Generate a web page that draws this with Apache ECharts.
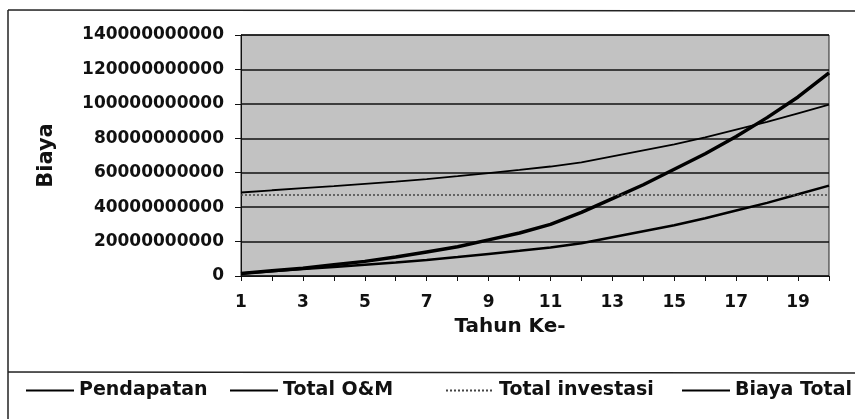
<!DOCTYPE html>
<html>
<head>
<meta charset="utf-8">
<script src="https://cdn.jsdelivr.net/npm/echarts@6/dist/echarts.min.js"></script>
<style>
  html, body { margin: 0; padding: 0; background: #fff; }
  #main { width: 855px; height: 419px; }
</style>
</head>
<body>
<div id="main"></div>
<script>
// tahun ke-
var years = ['1','2','3','4','5','6','7','8','9','10','11','12','13','14','15','16','17','18','19','20']
// nilai dalam rupiah
var pendapatan = [1.5e9, 3e9, 4.5e9, 6.5e9, 8.5e9, 11e9, 14e9, 17e9, 21e9, 25e9,
  30e9, 37e9, 45e9, 53e9, 62e9, 71e9, 81e9, 92e9, 104e9, 118e9]
var totalOM = [1.5e9, 2.8e9, 4e9, 5.2e9, 6.5e9, 7.8e9, 9.3e9, 11e9, 12.8e9, 14.6e9,
  16.6e9, 19e9, 22.5e9, 26e9, 29.5e9, 33.5e9, 38e9, 42.5e9, 47.5e9, 52.5e9]
var totalInvestasi = [47e9, 47e9, 47e9, 47e9, 47e9, 47e9, 47e9, 47e9, 47e9, 47e9,
  47e9, 47e9, 47e9, 47e9, 47e9, 47e9, 47e9, 47e9, 47e9, 47e9]
var biayaTotal = [48.5e9, 49.8e9, 51e9, 52.2e9, 53.5e9, 54.8e9, 56.3e9, 58e9, 59.8e9, 61.6e9,
  63.6e9, 66e9, 69.5e9, 73e9, 76.5e9, 80.5e9, 85e9, 89.5e9, 94.5e9, 99.5e9]

var font = 'DejaVu Sans'
var myChart = echarts.init(document.getElementById('main'))

// satu legend per item supaya posisinya bisa diatur
function legendAt(left, name) {
  return {
    left: left,
    top: 376,
    data: [name],
    itemWidth: 48,
    itemHeight: 16,
    itemGap: 5,
    itemStyle: { color: 'rgba(0,0,0,0)', borderWidth: 0, opacity: 0 },
    textStyle: { fontFamily: font, fontWeight: 'bold', fontSize: 19, color: '#111' }
  }
}

var option = {
  animation: false,
  backgroundColor: '#fff',
  grid: {
    left: 241,
    right: 26,
    top: 35,
    bottom: 143,
    show: true,
    backgroundColor: '#c2c2c2',
    borderColor: '#222',
    borderWidth: 1
  },
  legend: [
    legendAt(20, 'Pendapatan'),
    legendAt(224, 'Total O&M'),
    legendAt(440, 'Total investasi'),
    legendAt(676, 'Biaya Total')
  ],
  xAxis: {
    type: 'category',
    data: years,
    boundaryGap: false,
    name: 'Tahun Ke-',
    nameLocation: 'middle',
    nameGap: 41,
    nameTextStyle: { fontFamily: font, fontWeight: 'bold', fontSize: 20, color: '#111', padding: [0, 50, 0, 0] },
    axisLine: { lineStyle: { color: '#111', width: 1 } },
    axisTick: { show: true, interval: 0, length: 5, lineStyle: { color: '#111' } },
    axisLabel: { interval: 1, margin: 18, fontFamily: font, fontWeight: 'bold', fontSize: 17, color: '#111' },
    splitLine: { show: false }
  },
  yAxis: {
    type: 'value',
    min: 0,
    max: 140000000000,
    interval: 20000000000,
    name: 'Biaya',
    nameLocation: 'middle',
    nameGap: 184,
    nameTextStyle: { fontFamily: font, fontWeight: 'bold', fontSize: 21, color: '#111' },
    axisLine: { show: true, lineStyle: { color: '#111', width: 1 } },
    axisTick: { show: true, length: 6, lineStyle: { color: '#111' } },
    axisLabel: {
      margin: 17,
      fontFamily: font,
      fontWeight: 'bold',
      fontSize: 17,
      color: '#111',
      formatter: function (v) { return String(v) }
    },
    splitLine: { show: true, lineStyle: { color: '#111', width: 1.6 } }
  },
  graphic: [
    { type: 'line', shape: { x1: 8, y1: 10, x2: 855, y2: 11 }, style: { stroke: '#222', lineWidth: 1.5 } },
    { type: 'line', shape: { x1: 8, y1: 10, x2: 8, y2: 419 }, style: { stroke: '#222', lineWidth: 1.5 } },
    { type: 'line', shape: { x1: 8, y1: 372, x2: 855, y2: 373 }, style: { stroke: '#222', lineWidth: 1.5 } }
  ],
  series: [
    {
      name: 'Pendapatan',
      type: 'line',
      data: pendapatan,
      symbol: 'none',
      lineStyle: { color: '#000', width: 3.5 },
      itemStyle: { color: '#000' }
    },
    {
      name: 'Total O&M',
      type: 'line',
      data: totalOM,
      symbol: 'none',
      lineStyle: { color: '#000', width: 2.5 },
      itemStyle: { color: '#000' }
    },
    {
      name: 'Total investasi',
      type: 'line',
      data: totalInvestasi,
      symbol: 'none',
      lineStyle: { color: '#444', width: 1.5, type: [2, 2] },
      itemStyle: { color: '#444' }
    },
    {
      name: 'Biaya Total',
      type: 'line',
      data: biayaTotal,
      symbol: 'none',
      lineStyle: { color: '#000', width: 1.8 },
      itemStyle: { color: '#000' }
    }
  ]
}

myChart.setOption(option)
</script>
</body>
</html>
